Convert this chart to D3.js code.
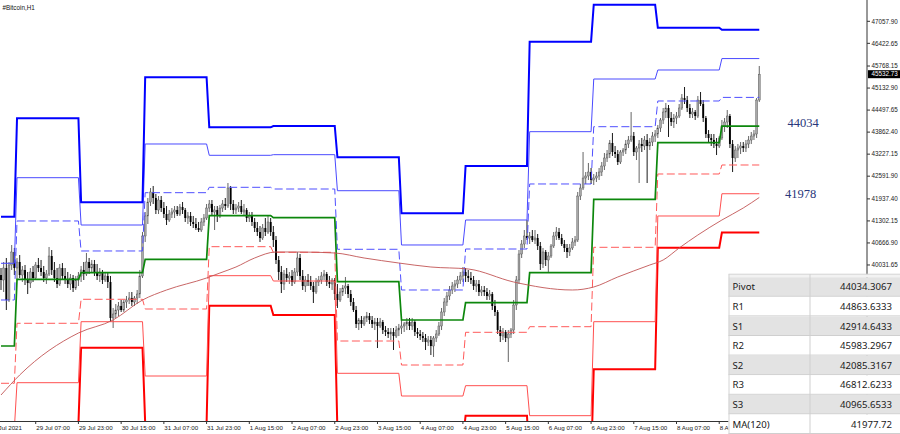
<!DOCTYPE html>
<html><head><meta charset="utf-8">
<script src="https://cdn.jsdelivr.net/npm/d3@7"></script>
<style>
html,body{margin:0;padding:0;background:#fff;}
svg{display:block;}
</style></head><body>
<svg id="chart" width="900" height="434"></svg>
<script>
const title = "#Bitcoin,H1";
const barStart = "2021-07-28T18:00:00Z"; // first hourly bar
// hourly candles [open, high, low, close]
const candles = [
[39742,39944,39310,39598],[39598,40117,39252,39944],[39944,40233,38733,39022],[39022,40117,38964,40031],
[40031,40607,39887,40406],[40406,40521,39742,39944],[39944,40233,39598,40117],[40117,40319,39656,39742],
[39742,40002,39541,39887],[39887,40031,39454,39598],[39598,39829,39194,39512],[39512,39944,39367,39829],
[39829,40002,39541,39656],[39656,40117,39598,40031],[40031,40233,39829,39944],[39944,40175,39714,39829],
[39829,40002,39541,39656],[39656,39887,39483,39771],[39771,40550,39714,40290],[40290,40463,39742,39887],
[39887,40117,39541,39656],[39656,39944,39367,39483],[39483,40060,39425,39944],[39944,40088,39598,39714],
[39714,39944,39483,39598],[39598,39829,39367,39483],[39483,39771,39310,39656],[39656,39742,39252,39367],
[39367,39714,39310,39598],[39598,39829,39425,39714],[39714,40002,39541,39887],[39887,40117,39598,39771],
[39771,40377,39714,40117],[40117,40233,39771,39944],[39944,40175,39829,40060],[40060,40175,39714,39829],
[39829,40060,39598,39714],[39714,39944,39541,39829],[39829,39887,39483,39598],[39598,39829,39541,39714],
[39714,39829,39367,39541],[39541,39714,38387,38503],[38503,38791,38214,38618],[38618,38906,38503,38733],
[38733,38964,38560,38849],[38849,39022,38676,38733],[38733,39022,38676,38964],[38964,39137,38791,39022],
[39022,39252,38906,39079],[39079,39252,38849,38964],[38964,39137,38849,39079],[39079,39310,38906,39194],
[39194,39887,39079,39714],[39714,40982,39656,40867],[40867,41559,40694,41444],[41444,41963,41213,41847],
[41847,42251,41732,42136],[42136,42309,41790,41963],[41963,42078,41501,41617],[41617,42020,41501,41905],
[41905,42020,41559,41674],[41674,41847,41386,41501],[41501,41732,41184,41328],[41328,41617,41271,41501],
[41501,41674,41386,41559],[41559,41732,41386,41617],[41617,41732,41444,41501],[41501,41790,41444,41703],
[41703,41847,41501,41617],[41617,41674,41271,41386],[41386,41559,41213,41444],[41444,41559,41155,41271],
[41271,41444,41098,41213],[41213,41386,41040,41098],[41098,41271,40982,41040],[41040,41386,40982,41271],
[41271,41501,41155,41386],[41386,41790,41328,41674],[41674,41905,41559,41790],[41790,41905,41444,41559],
[41559,41732,41040,41617],[41617,41732,41271,41444],[41444,41761,41386,41674],[41674,41905,41559,41790],
[41790,41963,41617,41732],[41732,42395,41674,42251],[42251,42309,41617,41790],[41790,41905,41501,41617],
[41617,41790,41501,41674],[41674,41847,41559,41732],[41732,41905,41501,41559],[41559,41790,41444,41617],
[41617,41674,41271,41386],[41386,41559,41271,41444],[41444,41559,41155,41271],[41271,41386,40982,41098],
[41098,41271,40867,40982],[40982,41155,40694,40809],[40809,41213,40752,41098],[41098,41386,40867,40982],
[40982,41444,40925,41271],[41271,41386,40867,40982],[40982,41155,40550,40752],[40752,40867,40060,40175],
[40175,40290,39598,39829],[39829,40002,39223,39483],[39483,39887,39310,39771],[39771,39944,39541,39656],
[39656,39829,39483,39714],[39714,39887,39425,39541],[39541,39944,39483,39829],[39829,40406,39714,40233],
[40233,40348,39598,39714],[39714,39887,39310,39425],[39425,39714,39252,39598],[39598,39771,39425,39541],
[39541,39714,39310,39425],[39425,39541,38935,39252],[39252,39656,39194,39541],[39541,39714,39425,39598],
[39598,39829,39483,39714],[39714,39887,39598,39771],[39771,39829,39425,39541],[39541,39714,39367,39483],
[39483,39656,39310,39598],[39598,39656,39022,39194],[39194,39483,38791,39022],[39022,39367,38964,39252],
[39252,39454,39137,39367],[39367,39685,39194,39425],[39425,39483,39079,39194],[39194,39310,38849,38964],
[38964,39079,38676,38733],[38733,38849,38214,38330],[38330,38503,38156,38445],[38445,38560,38214,38330],
[38330,38560,38272,38503],[38503,38676,38387,38560],[38560,38647,38330,38445],[38445,38560,38214,38330],
[38330,38503,38156,38387],[38387,38503,37637,38272],[38272,38503,38214,38387],[38387,38445,38041,38156],
[38156,38272,37983,38099],[38099,38214,37926,38041],[38041,38214,37868,38099],[38099,38214,37580,37983],
[37983,38272,37926,38156],[38156,38330,37983,38214],[38214,38445,38041,38272],[38272,38387,38099,38330],
[38330,38503,38156,38387],[38387,38503,38156,38272],[38272,38503,38156,38387],[38387,38445,37983,38099],
[38099,38214,37926,38041],[38041,38156,37868,37983],[37983,38099,37810,37926],[37926,38041,37580,37810],
[37810,37983,37695,37868],[37868,37983,37435,37695],[37695,37983,37378,37926],[37926,38156,37810,38041],
[38041,38387,37983,38272],[38272,38791,38156,38676],[38676,39079,38560,38964],[38964,39252,38849,39137],
[39137,39425,39022,39310],[39310,39541,39194,39425],[39425,39598,39252,39483],[39483,39714,39367,39598],
[39598,39829,39483,39714],[39714,39973,39541,39829],[39829,39944,39541,39714],[39714,39887,39541,39656],
[39656,39829,39483,39598],[39598,39714,39310,39425],[39425,39598,39252,39483],[39483,39598,39137,39252],
[39252,39425,39137,39310],[39310,39425,39137,39252],[39252,39367,39022,39137],[39137,39310,39022,39194],
[39194,39252,38733,38849],[38849,39022,38560,38676],[38676,38733,38041,38156],[38156,38272,37810,37983],
[37983,38214,37868,38099],[38099,38156,37810,37926],[37926,38156,37234,38041],[38041,38214,37926,38156],
[38156,39022,38041,38877],[38877,39714,38733,39598],[39598,40463,39483,40348],[40348,40752,40233,40636],
[40636,41040,40521,40867],[40867,41328,40752,40809],[40809,40982,40636,40867],[40867,41040,40694,40752],
[40752,41040,40636,40809],[40809,40925,40463,40579],[40579,40694,39887,40060],[40060,40521,39944,40406],
[40406,40463,40002,40175],[40175,40406,39829,40290],[40290,40636,40233,40579],[40579,40982,40521,40867],
[40867,41126,40752,40982],[40982,41098,40752,40809],[40809,40925,40579,40636],[40636,40752,40406,40521],
[40521,40636,40233,40406],[40406,40636,40290,40521],[40521,40809,40463,40694],[40694,40867,40579,40752],
[40752,42136,40694,42020],[42020,42366,41905,42251],[42251,43289,42193,42539],[42539,42712,42366,42597],
[42597,42972,42481,42712],[42712,42828,42366,42481],[42481,42655,42337,42539],[42539,42712,42424,42597],
[42597,42828,42481,42712],[42712,43001,42597,42885],[42885,43260,42770,43116],[43116,43346,43001,43231],
[43231,43635,43116,43549],[43549,43837,43174,43289],[43289,43462,43116,43231],[43231,43346,42914,43001],
[43001,43346,42943,43289],[43289,43404,43174,43346],[43346,43635,43231,43520],[43520,43750,43404,43635],
[43635,44442,43577,43750],[43750,43866,43174,43289],[43289,43462,43058,43404],[43404,43635,42395,43520],
[43520,43693,43289,43462],[43462,43750,43346,43635],[43635,43808,42395,43462],[43462,43693,43346,43577],
[43577,43866,43462,43750],[43750,43923,43577,43808],[43808,44068,43693,43981],[43981,44269,43866,44212],
[44212,44558,44096,44442],[44442,44702,44269,44558],[44558,44644,43722,44269],[44269,44442,44039,44154],
[44154,44385,43981,44269],[44269,44442,44096,44327],[44327,44673,44269,44558],[44558,44961,44500,44846],
[44846,45163,44673,44788],[44788,44904,44442,44558],[44558,44673,44269,44385],[44385,44558,44269,44442],
[44442,44500,44212,44327],[44327,44904,44269,44788],[44788,45019,44615,44673],[44673,44788,44154,44269],
[44269,44327,43693,43808],[43808,43923,43577,43693],[43693,43808,43462,43635],[43635,43808,43404,43520],
[43520,43693,43202,43462],[43462,43750,43404,43693],[43693,44212,43635,44039],[44039,44269,43866,44154],
[44154,44500,43981,44327],[44327,44385,43404,43520],[43520,43635,42712,43116],[43116,43462,43001,43346],
[43346,43520,43116,43404],[43404,43577,43231,43462],[43462,43577,43289,43404],[43404,43635,43289,43520],
[43520,43750,43404,43635],[43635,43866,43520,43750],[43750,43923,43635,43808],[43808,44846,43693,44788],
[44788,45769,44731,45532.73]
];
// daily classic pivot levels
const pivotDays = ["2021-07-28","2021-07-29","2021-07-30","2021-07-31","2021-08-01","2021-08-02","2021-08-03",
                   "2021-08-04","2021-08-05","2021-08-06","2021-08-07","2021-08-08","2021-08-09"];
const r3 = [41424,44261,41839,45443,44001,44039,43136,41522,42886,46470,47537,46873,46812.6233];
const r2 = [40080,42548,41184,43520,43194,43212,42173,40608,41328,43875,45394,45654,45983.2967];
const r1 = [39022,41300,40435,42116,42271,42222,40484,39310,40492,42367,44019,44760,44863.6333];
const pivot = [37695,39619,39809,40195,41453,41395,39549,38445,38944,39809,41925,43558,44034.3067];
const s1 = [36620,38350,39042,38762,40559,40397,37839,37147,38090,38252,40541,42655,42914.6433];
const s2 = [35310,36637,38396,36830,39723,39569,36908,36253,36551,35686,38396,41444,42085.3167];
const s3 = [34252,35442,37646,35466,38858,38589,35236,34984,35686,34235,37023,40530,40965.6533];
// MA(120) read at bar indices
const maBars = [0,7,29,42,53,62,77,82,88,95,103,111,125,136,149,161,175,192,214,222,231,243,248,254,261,270,278,284];
const maValues = [36282,36859,38070,38445,39022,39310,39656,39800,39973,40233,40406,40406,40377,40233,40088,39973,
                  39915,39541,39310,39396,39685,40031,40175,40521,40896,41328,41674,41977.72];
const yTickValues = [47057.90,46422.65,45768.15,45132.90,44497.65,43862.40,43227.15,42591.90,41937.40,41302.15,40666.90,40031.65];
const yTickLabels = ["47057.90","46422.65","45768.15","45132.90","44497.65","43862.40","43227.15","42591.90","41937.40","41302.15","40666.90","40031.65"];
const xTickTimes = ["2021-07-28T15:00:00Z","2021-07-29T07:00:00Z","2021-07-29T23:00:00Z","2021-07-30T15:00:00Z",
  "2021-07-31T07:00:00Z","2021-07-31T23:00:00Z","2021-08-01T15:00:00Z","2021-08-02T07:00:00Z","2021-08-02T23:00:00Z",
  "2021-08-03T15:00:00Z","2021-08-04T07:00:00Z","2021-08-04T23:00:00Z","2021-08-05T15:00:00Z","2021-08-06T07:00:00Z",
  "2021-08-06T23:00:00Z","2021-08-07T15:00:00Z","2021-08-08T07:00:00Z","2021-08-08T23:00:00Z"];
const xTickLabels = ["28 Jul 2021","29 Jul 07:00","29 Jul 23:00","30 Jul 15:00","31 Jul 07:00","31 Jul 23:00",
  "1 Aug 15:00","2 Aug 07:00","2 Aug 23:00","3 Aug 15:00","4 Aug 07:00","4 Aug 23:00","5 Aug 15:00","6 Aug 07:00",
  "6 Aug 23:00","7 Aug 15:00","8 Aug 07:00","8 Aug 23:00"];
const lastPrice = 45532.73;
const lastPriceLabel = "45532.73";
const tableLabels = ["Pivot","R1","S1","R2","S2","R3","S3","MA(120)"];
const tableValues = ["44034.3067","44863.6333","42914.6433","45983.2967","42085.3167","46812.6233","40965.6533","41977.72"];
const levelLabels = ["44034","41978"];
const levelLabelValues = [44034.3067, 41977.72];

// ---------- drawing ----------
const svg = d3.select("#chart");
const plotRight = 867, plotBottom = 421;
const HOUR = 3600e3;
const t0 = new Date(barStart).getTime();
const x = d3.scaleUtc().domain([new Date(t0), new Date(t0 + 324*HOUR)]).range([1, 1 + 324*2.67]);
const y = d3.scaleLinear().domain([35532.5, 47672.1]).range([plotBottom, 0]);
const barTime = i => new Date(t0 + i*HOUR);

svg.append("defs").append("clipPath").attr("id","plotclip")
  .append("rect").attr("x",0).attr("y",0).attr("width",plotRight).attr("height",plotBottom);
const plot = svg.append("g").attr("clip-path","url(#plotclip)");

// candles
const cg = plot.append("g");
candles.forEach((d,i)=>{
  const [o,h,l,c] = d;
  const cx = x(barTime(i));
  const bull = c >= o;
  cg.append("line").attr("x1",cx).attr("x2",cx).attr("y1",y(h)).attr("y2",y(l))
    .attr("stroke", bull ? "#555" : "#000").attr("stroke-width",0.9);
  const top = y(Math.max(o,c)), bot = y(Math.min(o,c));
  cg.append("rect").attr("x",cx-0.95).attr("width",1.9).attr("y",top).attr("height",Math.max(0.8,bot-top))
    .attr("fill", bull ? "#a8a8a8" : "#000").attr("stroke", bull ? "#4a4a4a" : "none").attr("stroke-width",0.4);
});

// pivot levels
const nBars = candles.length;
const segs = pivotDays.map(ds=>{
  const ds0 = new Date(ds+"T00:00:00Z").getTime();
  const first = Math.max(0, Math.round((ds0 - t0)/HOUR));
  const last = Math.min(nBars-1, Math.round((ds0 + 24*HOUR - t0)/HOUR) - 1);
  return [first,last];
});
const lineGen = d3.line();
function levelLine(vals, color, width, dash){
  const pts = [];
  vals.forEach((v,k)=>{
    const [f,l] = segs[k];
    pts.push([x(barTime(f)), y(v)]);
    pts.push([x(barTime(l)), y(v)]);
  });
  plot.append("path").attr("d", lineGen(pts)).attr("fill","none")
    .attr("stroke",color).attr("stroke-width",width).attr("stroke-dasharray", dash || null);
}
levelLine(s3, "#ff0000", 2);
levelLine(s2, "#ff5050", 1);
levelLine(s1, "#ff5a5a", 1, "8,3.5");
levelLine(r1, "#4f4fff", 1, "8,3.5");
levelLine(r2, "#4a4aff", 1);
levelLine(r3, "#0000ff", 2);
levelLine(pivot, "#0c870c", 1.7);

// MA(120)
plot.append("path")
  .attr("d", d3.line().curve(d3.curveMonotoneX)(maBars.map((b,k)=>[x(barTime(b)), y(maValues[k])])))
  .attr("fill","none").attr("stroke","#c25555").attr("stroke-width",0.9);

// axes
svg.append("line").attr("x1",plotRight).attr("x2",plotRight).attr("y1",0).attr("y2",plotBottom)
  .attr("stroke","#333").attr("stroke-width",1);
svg.append("line").attr("x1",0).attr("x2",plotRight).attr("y1",plotBottom+0.5).attr("y2",plotBottom+0.5)
  .attr("stroke","#333").attr("stroke-width",1);
const axisFont = "'Liberation Sans', Arial, sans-serif";
yTickValues.forEach((v,k)=>{
  const yy = y(v);
  svg.append("line").attr("x1",plotRight).attr("x2",plotRight+3).attr("y1",yy).attr("y2",yy).attr("stroke","#333");
  svg.append("text").attr("x",871.5).attr("y",yy).attr("dy","0.35em").text(yTickLabels[k])
    .attr("font-family",axisFont).attr("font-size",6.3).attr("fill","#222");
});
// last price box
svg.append("rect").attr("x",868).attr("y",y(lastPrice)-4).attr("width",32).attr("height",8).attr("fill","#000");
svg.append("text").attr("x",871.5).attr("y",y(lastPrice)).attr("dy","0.35em").text(lastPriceLabel)
  .attr("font-family",axisFont).attr("font-size",6.3).attr("fill","#fff");

xTickTimes.forEach((t,k)=>{
  const xx = x(new Date(t));
  svg.append("line").attr("x1",xx).attr("x2",xx).attr("y1",plotBottom).attr("y2",plotBottom+3).attr("stroke","#333");
  svg.append("text").attr("x",k===0 ? xx-3 : xx+0.5).attr("y",429.5).text(xTickLabels[k])
    .attr("font-family",axisFont).attr("font-size",6.2).attr("fill","#222");
});

// title
svg.append("text").attr("x",2.5).attr("y",9.5).text(title)
  .attr("font-family",axisFont).attr("font-size",6.3).attr("fill","#111");

// level labels
const lx = [787.5, 785];
levelLabels.forEach((s,k)=>{
  svg.append("text").attr("x",lx[k]).attr("y",y(levelLabelValues[k])+0.8).text(s)
    .attr("font-family","'Liberation Serif', 'Times New Roman', serif").attr("font-size",12.5).attr("fill","#28367a");
});

// table
const tg = svg.append("g");
const rowH = 19.6, rowTop = 277.2, tLeft = 728.5, tRight = 900, tDiv = 810;
tableLabels.forEach((lab,k)=>{
  const ry = rowTop + k*rowH;
  tg.append("rect").attr("x",tLeft).attr("y",ry).attr("width",tRight-tLeft).attr("height",rowH)
    .attr("fill", k%2===0 ? "#e3e3e3" : "#ffffff");
  tg.append("line").attr("x1",tLeft).attr("x2",tRight).attr("y1",ry+rowH-0.5).attr("y2",ry+rowH-0.5)
    .attr("stroke","#cfcfcf").attr("stroke-width",1);
  tg.append("text").attr("x",732.5).attr("y",ry+rowH/2).attr("dy","0.36em").text(lab)
    .attr("font-family","'Noto Sans', 'Open Sans', sans-serif").attr("font-size",9.6).attr("fill","#1a1a1a");
  tg.append("text").attr("x",892).attr("y",ry+rowH/2).attr("dy","0.36em").attr("text-anchor","end").text(tableValues[k])
    .attr("font-family","'Noto Sans', 'Open Sans', sans-serif").attr("font-size",9.6).attr("fill","#1a1a1a");
});
tg.append("rect").attr("x",tLeft).attr("y",rowTop-3).attr("width",tRight-tLeft).attr("height",3).attr("fill","#f2f2f2");
tg.append("line").attr("x1",tLeft).attr("x2",tRight).attr("y1",rowTop-3).attr("y2",rowTop-3).attr("stroke","#d4d4d4");
tg.append("line").attr("x1",tDiv).attr("x2",tDiv).attr("y1",rowTop-3).attr("y2",434).attr("stroke","#cfcfcf");
tg.append("line").attr("x1",tLeft+0.5).attr("x2",tLeft+0.5).attr("y1",rowTop-3).attr("y2",434).attr("stroke","#d4d4d4");
</script>
</body></html>
